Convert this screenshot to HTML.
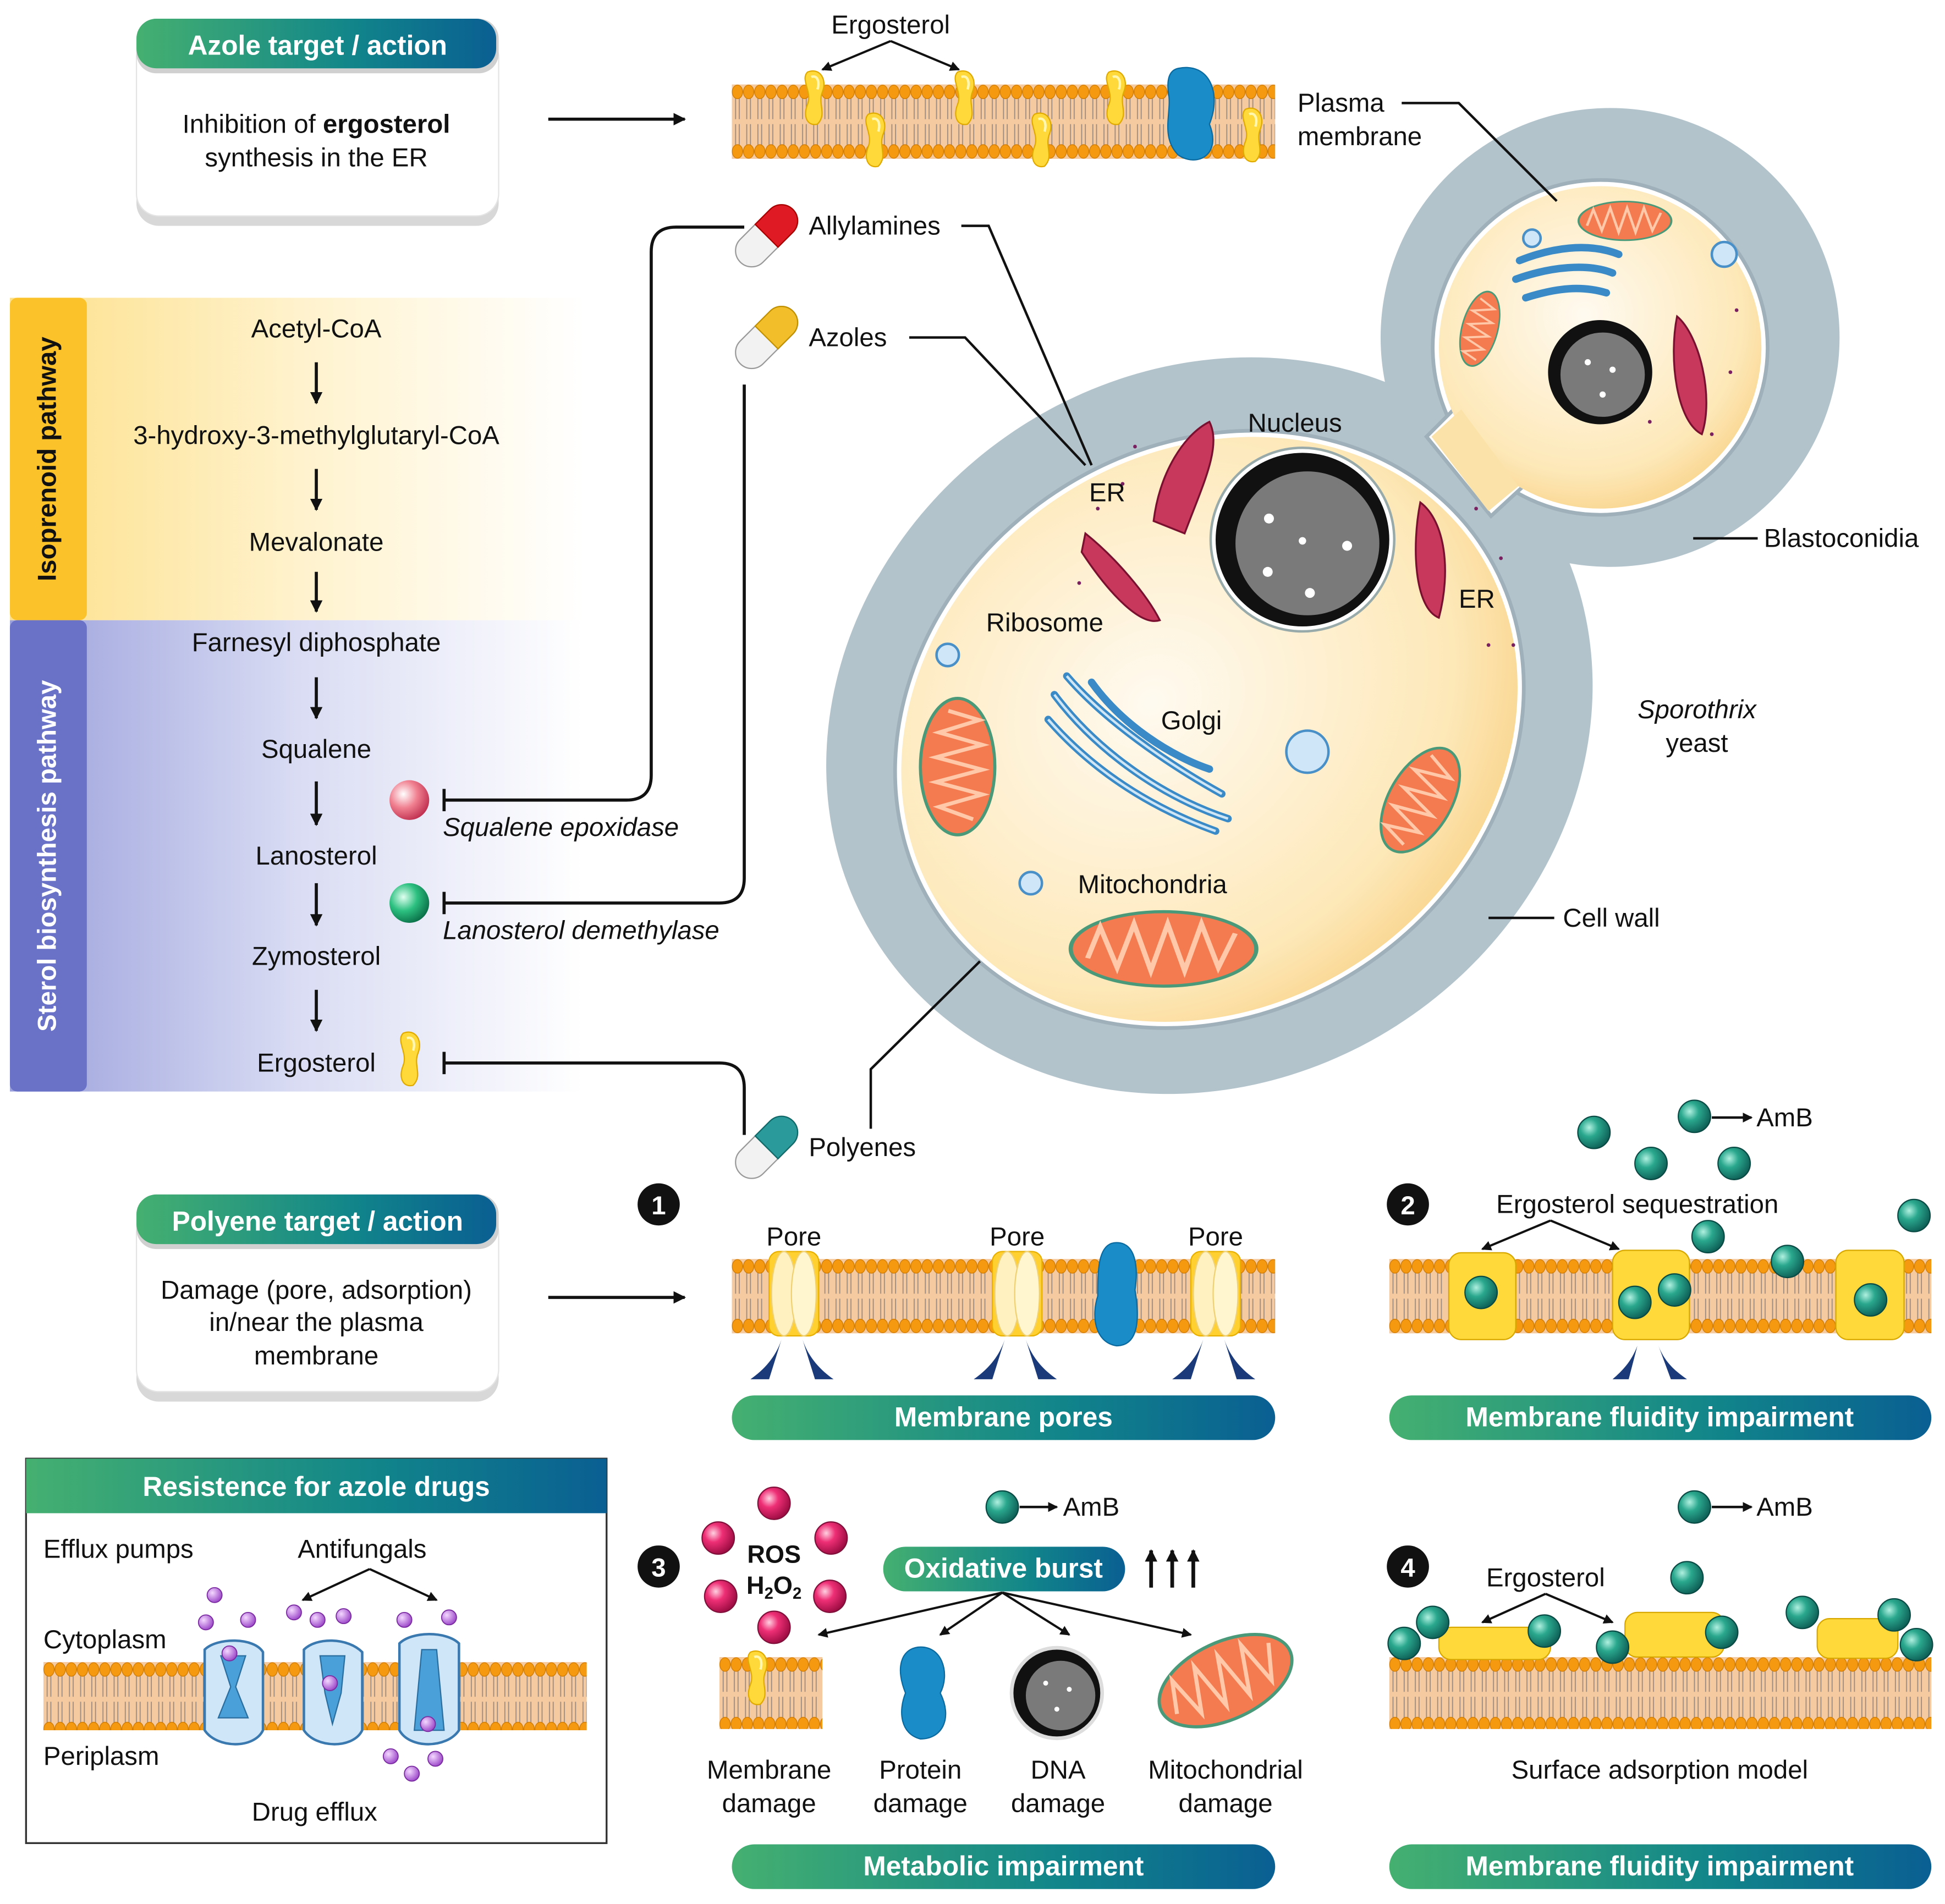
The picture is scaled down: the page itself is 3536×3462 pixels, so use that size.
<!DOCTYPE html>
<html><head><meta charset="utf-8"><style>
html,body{margin:0;padding:0;background:#fff}
svg{display:block}
text{font-family:"Liberation Sans",Arial,sans-serif;fill:#111}
</style></head><body>
<svg width="3536" height="3462" viewBox="0 0 1568 1535" xmlns="http://www.w3.org/2000/svg">
<defs>
<pattern id="mem" width="9" height="60" patternUnits="userSpaceOnUse">
<rect width="9" height="60" fill="#f6caa0"/>
<path d="M3 11V28M6 11V28M3 32V49M6 32V49" stroke="#9a8a80" stroke-width="0.8" fill="none"/>
<ellipse cx="4.5" cy="6" rx="4.2" ry="5.5" fill="#f59a10" stroke="#d07a00" stroke-width="0.6"/>
<ellipse cx="4.5" cy="54" rx="4.2" ry="5.5" fill="#f59a10" stroke="#d07a00" stroke-width="0.6"/>
</pattern>
<linearGradient id="bar" x1="0" x2="1"><stop offset="0" stop-color="#45b070"/><stop offset="0.6" stop-color="#11858a"/><stop offset="1" stop-color="#0a5f92"/></linearGradient>
<linearGradient id="yel" x1="0" x2="1"><stop offset="0" stop-color="#fde08a"/><stop offset="0.5" stop-color="#fff2cc"/><stop offset="1" stop-color="#fff"/></linearGradient>
<linearGradient id="blu" x1="0" x2="1"><stop offset="0" stop-color="#9aa0dc"/><stop offset="0.5" stop-color="#d9dcf3"/><stop offset="1" stop-color="#fff"/></linearGradient>
<radialGradient id="cyto" cx="0.45" cy="0.4" r="0.7"><stop offset="0" stop-color="#fffaf0"/><stop offset="0.7" stop-color="#fde8b8"/><stop offset="1" stop-color="#f8cc7a"/></radialGradient>
<radialGradient id="teal" cx="0.35" cy="0.35" r="0.7"><stop offset="0" stop-color="#b0f0e0"/><stop offset="0.4" stop-color="#2aa88e"/><stop offset="1" stop-color="#0d5e55"/></radialGradient>
<radialGradient id="pink" cx="0.35" cy="0.35" r="0.7"><stop offset="0" stop-color="#ffd0e0"/><stop offset="0.4" stop-color="#ee2f76"/><stop offset="1" stop-color="#9a0b40"/></radialGradient>
<radialGradient id="red" cx="0.35" cy="0.35" r="0.7"><stop offset="0" stop-color="#fff"/><stop offset="0.5" stop-color="#f08090"/><stop offset="1" stop-color="#c03050"/></radialGradient>
<radialGradient id="grn" cx="0.35" cy="0.35" r="0.7"><stop offset="0" stop-color="#e0fff0"/><stop offset="0.5" stop-color="#2cc080"/><stop offset="1" stop-color="#0a7048"/></radialGradient>
<radialGradient id="purp" cx="0.35" cy="0.35" r="0.7"><stop offset="0" stop-color="#f4d8ff"/><stop offset="1" stop-color="#9a44c8"/></radialGradient>
<marker id="ah" markerWidth="8" markerHeight="8" refX="7" refY="4" orient="auto" markerUnits="userSpaceOnUse"><path d="M0,0L8,4L0,8Z" fill="#111"/></marker>
<marker id="ahs" markerWidth="10" markerHeight="10" refX="9" refY="5" orient="auto" markerUnits="userSpaceOnUse"><path d="M0,0L10,5L0,10Z" fill="#111"/></marker>
<g id="amb"><circle r="13" fill="url(#teal)" stroke="#0a4a44" stroke-width="1"/></g>
<g id="ros"><circle r="13" fill="url(#pink)" stroke="#80103a" stroke-width="1"/></g>
<g id="erg"><path d="M-6,-20C4,-24 10,-14 6,-4C2,6 10,14 2,22C-6,24 -10,16 -6,6C-2,-4 -12,-14 -6,-20Z" fill="#ffd83a" stroke="#e0aa00" stroke-width="1"/><path d="M-3,-16C2,-18 4,-12 2,-6" stroke="#fff6b0" stroke-width="2" fill="none"/></g>
<g id="pore"><rect x="-20" y="-4" width="40" height="68" rx="8" fill="#ffd030" stroke="#e8b000"/><ellipse cx="-8" cy="30" rx="10" ry="34" fill="#fff2c0" stroke="#f0d070"/><ellipse cx="8" cy="30" rx="10" ry="34" fill="#fff6d0" stroke="#f0d070"/></g>
<g id="mito"><ellipse rx="44" ry="24" fill="#f47a50" stroke="#4a9a7a" stroke-width="2"/><path d="M-36,6L-30,-14L-22,12L-14,-16L-6,14L2,-16L10,14L18,-16L26,12L34,-10" stroke="#ffc8a8" stroke-width="2.5" fill="none"/></g>
</defs>

<!-- Azole target box -->
<rect x="110" y="32" width="292" height="150" rx="18" fill="#d8d8d8"/>
<rect x="110" y="28" width="292" height="146" rx="18" fill="#fff" stroke="#e4e4e4"/>
<rect x="110" y="15" width="292" height="44" rx="16" fill="#d0d0d0"/>
<rect x="110" y="15" width="290" height="40" rx="16" fill="url(#bar)"/>
<text x="256" y="44" font-size="22" font-weight="bold" text-anchor="middle" style="fill:#fff">Azole target / action</text>
<text x="255" y="107" font-size="21" text-anchor="middle">Inhibition of <tspan font-weight="bold">ergosterol</tspan></text>
<text x="255" y="134" font-size="21" text-anchor="middle">synthesis in the ER</text>
<line x1="442" y1="96" x2="552" y2="96" stroke="#111" stroke-width="2.5" marker-end="url(#ahs)"/>

<!-- top membrane -->
<g transform="translate(590,68)"><rect width="438" height="60" fill="url(#mem)"/></g>
<use href="#erg" x="657" y="78"/><use href="#erg" x="778" y="78"/><use href="#erg" x="900" y="78"/>
<use href="#erg" x="706" y="112"/><use href="#erg" x="840" y="112"/><use href="#erg" x="1010" y="108"/>
<path d="M950,55C975,50 985,75 975,100C985,125 965,135 950,125C935,110 945,90 942,75C940,60 945,56 950,55Z" fill="#1a8cc8" stroke="#0a6aa0"/>
<text x="718" y="27" font-size="21" text-anchor="middle">Ergosterol</text>
<line x1="718" y1="33" x2="663" y2="56" stroke="#111" stroke-width="1.8" marker-end="url(#ah)"/>
<line x1="718" y1="33" x2="773" y2="56" stroke="#111" stroke-width="1.8" marker-end="url(#ah)"/>
<text x="1046" y="90" font-size="21">Plasma</text>
<text x="1046" y="117" font-size="21">membrane</text>

<!-- pathway panel -->
<rect x="8" y="240" width="462" height="260" fill="url(#yel)"/>
<rect x="8" y="500" width="462" height="380" fill="url(#blu)"/>
<rect x="8" y="240" width="62" height="260" rx="6" fill="#fcc22a"/>
<rect x="8" y="500" width="62" height="380" rx="6" fill="#6a72c8"/>
<text transform="translate(45,370) rotate(-90)" font-size="21" font-weight="bold" text-anchor="middle">Isoprenoid pathway</text>
<text transform="translate(45,690) rotate(-90)" font-size="21" font-weight="bold" text-anchor="middle" style="fill:#fff">Sterol biosynthesis pathway</text>
<g font-size="21" text-anchor="middle">
<text x="255" y="272">Acetyl-CoA</text>
<text x="255" y="358">3-hydroxy-3-methylglutaryl-CoA</text>
<text x="255" y="444">Mevalonate</text>
<text x="255" y="525">Farnesyl diphosphate</text>
<text x="255" y="611">Squalene</text>
<text x="255" y="697">Lanosterol</text>
<text x="255" y="778">Zymosterol</text>
<text x="255" y="864">Ergosterol</text>
</g>
<g stroke="#111" stroke-width="2.5" marker-end="url(#ahs)">
<line x1="255" y1="292" x2="255" y2="325"/><line x1="255" y1="378" x2="255" y2="411"/><line x1="255" y1="461" x2="255" y2="493"/>
<line x1="255" y1="546" x2="255" y2="579"/><line x1="255" y1="630" x2="255" y2="665"/><line x1="255" y1="712" x2="255" y2="746"/><line x1="255" y1="798" x2="255" y2="831"/>
</g>
<circle cx="330" cy="645" r="16" fill="url(#red)"/>
<circle cx="330" cy="728" r="16" fill="url(#grn)"/>
<use href="#erg" x="331" y="853"/>
<text x="357" y="674" font-size="21" font-style="italic">Squalene epoxidase</text>
<text x="357" y="757" font-size="21" font-style="italic">Lanosterol demethylase</text>
<g fill="none" stroke="#111" stroke-width="2.5">
<path d="M358,645H505Q525,645 525,625V203Q525,183 545,183H600"/>
<line x1="358" y1="636" x2="358" y2="654"/>
<path d="M600,310V708Q600,728 580,728H358"/>
<line x1="358" y1="719" x2="358" y2="737"/>
<path d="M358,857H580Q600,857 600,877V915"/>
<line x1="358" y1="848" x2="358" y2="866"/>
</g>
<!-- pills -->
<g transform="translate(618,190) rotate(-45)"><rect x="-30" y="-13" width="60" height="26" rx="13" fill="#f2f2f2" stroke="#999"/><path d="M0,-13H17A13,13 0 0 1 17,13H0Z" fill="#e01a24" stroke="#a00"/></g>
<g transform="translate(618,272) rotate(-45)"><rect x="-30" y="-13" width="60" height="26" rx="13" fill="#f2f2f2" stroke="#999"/><path d="M0,-13H17A13,13 0 0 1 17,13H0Z" fill="#f2be2a" stroke="#c09000"/></g>
<g transform="translate(618,925) rotate(-45)"><rect x="-30" y="-13" width="60" height="26" rx="13" fill="#f2f2f2" stroke="#999"/><path d="M0,-13H17A13,13 0 0 1 17,13H0Z" fill="#2a9a9a" stroke="#106868"/></g>
<text x="652" y="189" font-size="21">Allylamines</text>
<text x="652" y="279" font-size="21">Azoles</text>
<text x="652" y="932" font-size="21">Polyenes</text>

<!-- cell -->
<circle cx="1298" cy="272" r="185" fill="#b3c3cc"/>
<ellipse cx="975" cy="585" rx="320" ry="285" transform="rotate(-35 975 585)" fill="#b3c3cc"/>
<path d="M1120,330 L1200,250 L1260,420 L1180,470Z" fill="#b3c3cc"/>
<ellipse cx="975" cy="588" rx="265" ry="228" transform="rotate(-35 975 588)" fill="#fff" stroke="#9fb0ba" stroke-width="3"/>
<circle cx="1290" cy="280" r="135" fill="#fff" stroke="#9fb0ba" stroke-width="3"/>
<polygon points="1150,352 1176,326 1228,392 1202,416" fill="#fff" stroke="#9fb0ba" stroke-width="3"/>
<ellipse cx="975" cy="588" rx="260" ry="223" transform="rotate(-35 975 588)" fill="url(#cyto)"/>
<circle cx="1290" cy="280" r="130" fill="url(#cyto)"/>
<polygon points="1154,352 1178,330 1224,392 1200,412" fill="#fbe2a8"/>
<!-- nucleus -->
<circle cx="1050" cy="435" r="74" fill="#fff" stroke="#9aa" stroke-width="2"/>
<circle cx="1050" cy="435" r="70" fill="#111"/>
<circle cx="1054" cy="438" r="58" fill="#7a7a7a"/>
<g fill="#fff"><circle cx="1023" cy="418" r="4"/><circle cx="1050" cy="436" r="3"/><circle cx="1086" cy="440" r="4"/><circle cx="1022" cy="461" r="4"/><circle cx="1056" cy="478" r="4"/></g>
<circle cx="1290" cy="300" r="42" fill="#111"/><circle cx="1292" cy="302" r="34" fill="#7a7a7a"/>
<g fill="#fff"><circle cx="1280" cy="292" r="2.5"/><circle cx="1300" cy="298" r="2.5"/><circle cx="1292" cy="318" r="2.5"/></g>
<!-- ER -->
<g fill="#c8385c" stroke="#7a1030" stroke-width="1.5">
<path d="M930,420 C935,380 955,350 975,340 C985,360 970,390 955,430Z"/>
<path d="M875,430 C900,450 925,480 935,500 C920,505 895,480 872,445Z"/>
<path d="M1145,405 C1165,420 1170,460 1160,498 C1140,490 1138,440 1145,405Z"/>
<path d="M1352,255 C1370,270 1382,320 1372,350 C1352,340 1345,290 1352,255Z"/>
</g>
<g fill="#7a2060"><circle cx="905" cy="390" r="1.5"/><circle cx="915" cy="360" r="1.5"/><circle cx="885" cy="410" r="1.5"/><circle cx="870" cy="470" r="1.5"/><circle cx="1190" cy="410" r="1.5"/><circle cx="1210" cy="450" r="1.5"/><circle cx="1200" cy="520" r="1.5"/><circle cx="1220" cy="520" r="1.5"/><circle cx="1330" cy="340" r="1.5"/><circle cx="1395" cy="300" r="1.5"/><circle cx="1380" cy="350" r="1.5"/><circle cx="1400" cy="250" r="1.5"/></g>
<!-- golgi -->
<g fill="none" stroke="#3a8ac8" stroke-width="6" stroke-linecap="round">
<path d="M850,560 C880,600 930,640 990,660"/><path d="M845,580 C880,620 925,650 980,670"/><path d="M860,545 C890,580 940,615 985,640"/><path d="M880,550 C905,585 945,610 975,620"/>
<path d="M1225,210 C1250,200 1280,195 1305,205"/><path d="M1222,225 C1250,215 1280,212 1300,220"/><path d="M1230,240 C1255,232 1275,230 1295,236"/>
</g>
<g fill="none" stroke="#cfe6f6" stroke-width="2"><path d="M850,560 C880,600 930,640 990,660"/><path d="M845,580 C880,620 925,650 980,670"/><path d="M860,545 C890,580 940,615 985,640"/></g>
<!-- vesicles -->
<g fill="#cfe6f8" stroke="#4a90c8" stroke-width="2"><circle cx="764" cy="528" r="9"/><circle cx="1054" cy="606" r="17"/><circle cx="831" cy="712" r="9"/><circle cx="1235" cy="192" r="7"/><circle cx="1390" cy="205" r="10"/></g>
<!-- mito -->
<use href="#mito" transform="translate(772,618) rotate(90) scale(1.25)"/>
<use href="#mito" transform="translate(938,765) scale(1.7,1.25)"/>
<use href="#mito" transform="translate(1145,645) rotate(-60) scale(1.05,1.05)"/>
<use href="#mito" transform="translate(1310,178) scale(0.85,0.65)"/>
<use href="#mito" transform="translate(1193,265) rotate(-75) scale(0.7,0.6)"/>
<!-- cell labels -->
<g font-size="21">
<text x="1006" y="348">Nucleus</text>
<text x="878" y="404">ER</text>
<text x="1176" y="490">ER</text>
<text x="795" y="509">Ribosome</text>
<text x="936" y="588">Golgi</text>
<text x="869" y="720">Mitochondria</text>
<text x="1368" y="579" font-style="italic" text-anchor="middle">Sporothrix</text>
<text x="1368" y="606" text-anchor="middle">yeast</text>
<text x="1422" y="441">Blastoconidia</text>
<text x="1260" y="747">Cell wall</text>
</g>
<line x1="1365" y1="434" x2="1417" y2="434" stroke="#111" stroke-width="2"/>
<line x1="1200" y1="740" x2="1253" y2="740" stroke="#111" stroke-width="2"/>
<polyline points="790,775 702,862 702,910" fill="none" stroke="#111" stroke-width="2"/>
<polyline points="1130,83 1176,83 1255,162" fill="none" stroke="#111" stroke-width="2"/>
<polyline points="775,182 797,182 880,375" fill="none" stroke="#111" stroke-width="2"/>
<polyline points="733,272 778,272 875,375" fill="none" stroke="#111" stroke-width="2"/>

<!-- Polyene target box -->
<rect x="110" y="980" width="292" height="150" rx="18" fill="#d8d8d8"/>
<rect x="110" y="976" width="292" height="146" rx="18" fill="#fff" stroke="#e4e4e4"/>
<rect x="110" y="963" width="292" height="44" rx="16" fill="#d0d0d0"/>
<rect x="110" y="963" width="290" height="40" rx="16" fill="url(#bar)"/>
<text x="256" y="992" font-size="22" font-weight="bold" text-anchor="middle" style="fill:#fff">Polyene target / action</text>
<text x="255" y="1047" font-size="21" text-anchor="middle">Damage (pore, adsorption)</text>
<text x="255" y="1073" font-size="21" text-anchor="middle">in/near the plasma</text>
<text x="255" y="1100" font-size="21" text-anchor="middle">membrane</text>
<line x1="442" y1="1046" x2="552" y2="1046" stroke="#111" stroke-width="2.5" marker-end="url(#ahs)"/>

<!-- panel 1 -->
<circle cx="531" cy="971" r="17" fill="#111"/><text x="531" y="979" font-size="21" font-weight="bold" text-anchor="middle" style="fill:#fff">1</text>
<g transform="translate(590,1015)"><rect width="438" height="60" fill="url(#mem)"/></g>
<use href="#pore" x="640" y="1013"/><use href="#pore" x="820" y="1013"/><use href="#pore" x="980" y="1013"/>
<path d="M898,1002C915,1000 918,1020 915,1040C920,1070 915,1085 900,1085C882,1082 880,1060 885,1045C885,1025 885,1004 898,1002Z" fill="#1a8cc8" stroke="#0a6aa0"/>
<g font-size="21" text-anchor="middle"><text x="640" y="1004">Pore</text><text x="820" y="1004">Pore</text><text x="980" y="1004">Pore</text></g>
<g fill="#1a3a7a">
<path d="M630,1080 C625,1095 615,1105 605,1112 L620,1112 Z"/><path d="M647,1080 C652,1095 662,1105 672,1112 L657,1112 Z"/>
<path d="M810,1080 C805,1095 795,1105 785,1112 L800,1112 Z"/><path d="M827,1080 C832,1095 842,1105 852,1112 L837,1112 Z"/>
<path d="M970,1080 C965,1095 955,1105 945,1112 L960,1112 Z"/><path d="M987,1080 C992,1095 1002,1105 1012,1112 L997,1112 Z"/>
<path d="M1320,1085 C1315,1098 1308,1105 1300,1112 L1313,1112 Z"/><path d="M1337,1085 C1342,1098 1350,1105 1360,1112 L1347,1112 Z"/>
</g>
<rect x="590" y="1125" width="438" height="36" rx="18" fill="url(#bar)"/>
<text x="809" y="1150" font-size="22" font-weight="bold" text-anchor="middle" style="fill:#fff">Membrane pores</text>

<!-- panel 2 -->
<circle cx="1135" cy="971" r="17" fill="#111"/><text x="1135" y="979" font-size="21" font-weight="bold" text-anchor="middle" style="fill:#fff">2</text>
<text x="1320" y="978" font-size="21" text-anchor="middle">Ergosterol sequestration</text>
<line x1="1250" y1="984" x2="1195" y2="1007" stroke="#111" stroke-width="1.8" marker-end="url(#ah)"/>
<line x1="1250" y1="984" x2="1305" y2="1007" stroke="#111" stroke-width="1.8" marker-end="url(#ah)"/>
<g transform="translate(1120,1015)"><rect width="437" height="60" fill="url(#mem)"/></g>
<g fill="#ffd83a" stroke="#d8a800">
<rect x="1168" y="1010" width="54" height="70" rx="10"/><rect x="1300" y="1008" width="62" height="72" rx="10"/><rect x="1480" y="1008" width="55" height="72" rx="10"/>
</g>
<use href="#amb" x="1194" y="1042"/><use href="#amb" x="1350" y="1040"/><use href="#amb" x="1508" y="1048"/><use href="#amb" x="1318" y="1050"/>
<use href="#amb" x="1285" y="913"/><use href="#amb" x="1331" y="938"/><use href="#amb" x="1398" y="938"/><use href="#amb" x="1377" y="997"/><use href="#amb" x="1441" y="1017"/><use href="#amb" x="1543" y="980"/>
<use href="#amb" x="1366" y="900"/><line x1="1380" y1="901" x2="1412" y2="901" stroke="#111" stroke-width="2" marker-end="url(#ah)"/>
<text x="1416" y="908" font-size="21">AmB</text>
<rect x="1120" y="1125" width="437" height="36" rx="18" fill="url(#bar)"/>
<text x="1338" y="1150" font-size="22" font-weight="bold" text-anchor="middle" style="fill:#fff">Membrane fluidity impairment</text>

<!-- panel 3 -->
<circle cx="531" cy="1263" r="17" fill="#111"/><text x="531" y="1271" font-size="21" font-weight="bold" text-anchor="middle" style="fill:#fff">3</text>
<use href="#ros" x="624" y="1212"/><use href="#ros" x="579" y="1240"/><use href="#ros" x="670" y="1240"/><use href="#ros" x="581" y="1287"/><use href="#ros" x="669" y="1287"/><use href="#ros" x="624" y="1312"/>
<text x="624" y="1260" font-size="20" font-weight="bold" text-anchor="middle">ROS</text>
<text x="624" y="1285" font-size="20" font-weight="bold" text-anchor="middle">H<tspan font-size="13" dy="4">2</tspan><tspan dy="-4">O</tspan><tspan font-size="13" dy="4">2</tspan></text>
<use href="#amb" x="808" y="1215"/><line x1="822" y1="1215" x2="852" y2="1215" stroke="#111" stroke-width="2" marker-end="url(#ah)"/>
<text x="857" y="1222" font-size="21">AmB</text>
<rect x="712" y="1247" width="195" height="36" rx="18" fill="url(#bar)"/>
<text x="809" y="1272" font-size="22" font-weight="bold" text-anchor="middle" style="fill:#fff">Oxidative burst</text>
<g stroke="#111" stroke-width="3" marker-end="url(#ahs)">
<line x1="928" y1="1280" x2="928" y2="1250"/><line x1="945" y1="1280" x2="945" y2="1250"/><line x1="962" y1="1280" x2="962" y2="1250"/>
</g>
<g stroke="#111" stroke-width="1.8" marker-end="url(#ah)">
<line x1="808" y1="1284" x2="660" y2="1318"/><line x1="808" y1="1284" x2="758" y2="1318"/><line x1="808" y1="1284" x2="862" y2="1318"/><line x1="808" y1="1284" x2="960" y2="1318"/>
</g>
<g transform="translate(580,1336)"><rect width="83" height="58" fill="url(#mem)"/></g>
<use href="#erg" x="611" y="1352"/>
<path d="M740,1328C760,1326 766,1350 758,1365C768,1385 760,1402 742,1402C726,1398 724,1380 730,1365C722,1345 726,1330 740,1328Z" fill="#1a8cc8" stroke="#0a6aa0"/>
<circle cx="852" cy="1365" r="38" fill="#ddd"/><circle cx="852" cy="1365" r="35" fill="#111"/><circle cx="855" cy="1367" r="28" fill="#7a7a7a"/>
<g fill="#fff"><circle cx="843" cy="1357" r="2"/><circle cx="862" cy="1362" r="2"/><circle cx="852" cy="1378" r="2"/></g>
<use href="#mito" transform="translate(988,1355) rotate(-25) scale(1.3,1.3)"/>
<g font-size="21" text-anchor="middle">
<text x="620" y="1434">Membrane</text><text x="620" y="1461">damage</text>
<text x="742" y="1434">Protein</text><text x="742" y="1461">damage</text>
<text x="853" y="1434">DNA</text><text x="853" y="1461">damage</text>
<text x="988" y="1434">Mitochondrial</text><text x="988" y="1461">damage</text>
</g>
<rect x="590" y="1487" width="438" height="36" rx="18" fill="url(#bar)"/>
<text x="809" y="1512" font-size="22" font-weight="bold" text-anchor="middle" style="fill:#fff">Metabolic impairment</text>

<!-- panel 4 -->
<circle cx="1135" cy="1263" r="17" fill="#111"/><text x="1135" y="1271" font-size="21" font-weight="bold" text-anchor="middle" style="fill:#fff">4</text>
<use href="#amb" x="1366" y="1215"/><line x1="1380" y1="1215" x2="1412" y2="1215" stroke="#111" stroke-width="2" marker-end="url(#ah)"/>
<text x="1416" y="1222" font-size="21">AmB</text>
<text x="1246" y="1279" font-size="21" text-anchor="middle">Ergosterol</text>
<line x1="1246" y1="1285" x2="1195" y2="1308" stroke="#111" stroke-width="1.8" marker-end="url(#ah)"/>
<line x1="1246" y1="1285" x2="1300" y2="1308" stroke="#111" stroke-width="1.8" marker-end="url(#ah)"/>
<g transform="translate(1120,1336)"><rect width="437" height="58" fill="url(#mem)"/></g>
<g fill="#ffd83a" stroke="#d8a800">
<rect x="1160" y="1312" width="90" height="26" rx="10"/><rect x="1310" y="1300" width="80" height="36" rx="10"/><rect x="1465" y="1305" width="65" height="32" rx="10"/>
</g>
<use href="#amb" x="1132" y="1325"/><use href="#amb" x="1155" y="1308"/><use href="#amb" x="1245" y="1315"/><use href="#amb" x="1360" y="1272"/><use href="#amb" x="1300" y="1328"/><use href="#amb" x="1388" y="1316"/><use href="#amb" x="1453" y="1300"/><use href="#amb" x="1527" y="1302"/><use href="#amb" x="1545" y="1326"/>
<text x="1338" y="1434" font-size="21" text-anchor="middle">Surface adsorption model</text>
<rect x="1120" y="1487" width="437" height="36" rx="18" fill="url(#bar)"/>
<text x="1338" y="1512" font-size="22" font-weight="bold" text-anchor="middle" style="fill:#fff">Membrane fluidity impairment</text>

<!-- resistance box -->
<rect x="21" y="1176" width="468" height="310" fill="#fff" stroke="#333" stroke-width="1.5"/>
<rect x="21" y="1176" width="468" height="44" fill="url(#bar)"/>
<text x="255" y="1206" font-size="22" font-weight="bold" text-anchor="middle" style="fill:#fff">Resistence for azole drugs</text>
<g font-size="21">
<text x="35" y="1256">Efflux pumps</text>
<text x="240" y="1256">Antifungals</text>
<text x="35" y="1329">Cytoplasm</text>
<text x="35" y="1423">Periplasm</text>
<text x="203" y="1468">Drug efflux</text>
</g>
<line x1="298" y1="1265" x2="244" y2="1290" stroke="#111" stroke-width="1.8" marker-end="url(#ah)"/>
<line x1="298" y1="1265" x2="352" y2="1290" stroke="#111" stroke-width="1.8" marker-end="url(#ah)"/>
<g transform="translate(35,1340)"><rect width="438" height="55" fill="url(#mem)"/></g>
<g fill="#cfe6f8" stroke="#3a78b0" stroke-width="2">
<path d="M165,1330C175,1320 205,1320 212,1332L212,1395C205,1410 175,1410 165,1395Z"/>
<path d="M245,1330C255,1320 280,1320 292,1332L292,1395C285,1410 255,1410 245,1395Z"/>
<path d="M322,1325C332,1315 360,1315 370,1325L370,1395C360,1410 330,1410 322,1395Z"/>
</g>
<g fill="#4aa0d8" stroke="#2a6ea0">
<path d="M178,1335L198,1335L190,1360L200,1385L176,1385L186,1360Z"/>
<path d="M258,1335L278,1335L275,1365L268,1390L262,1365Z"/>
<path d="M340,1330L352,1330L358,1395L334,1395Z"/>
</g>
<g fill="url(#purp)" stroke="#7a2aa0" stroke-width="0.8">
<circle cx="173" cy="1286" r="6"/><circle cx="166" cy="1308" r="6"/><circle cx="200" cy="1306" r="6"/><circle cx="185" cy="1333" r="6"/>
<circle cx="237" cy="1300" r="6"/><circle cx="256" cy="1306" r="6"/><circle cx="277" cy="1303" r="6"/><circle cx="266" cy="1357" r="6"/>
<circle cx="326" cy="1306" r="6"/><circle cx="362" cy="1304" r="6"/><circle cx="345" cy="1390" r="6"/><circle cx="315" cy="1416" r="6"/><circle cx="332" cy="1430" r="6"/><circle cx="351" cy="1418" r="6"/>
</g>
</svg>
</body></html>
